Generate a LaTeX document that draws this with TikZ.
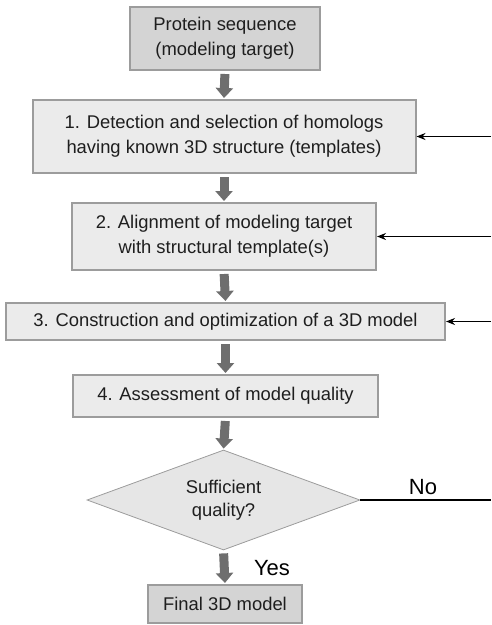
\documentclass[tikz,border=0pt]{standalone}
\usepackage{fontspec}
\setmainfont{Liberation Sans}
\usetikzlibrary{shapes.geometric,arrows.meta}
\definecolor{boxfill}{HTML}{EBEBEB}
\definecolor{darkfill}{HTML}{D4D4D4}
\definecolor{boxline}{HTML}{9C9C9C}
\definecolor{arrowgray}{HTML}{6E6E6E}
\definecolor{dfill}{HTML}{E6E6E6}
\definecolor{txt}{HTML}{1E1E1E}
\tikzset{
  stepbox/.style={draw=boxline, line width=2pt, fill=boxfill, inner sep=0pt,
    align=center, text=txt, font=\fontsize{18.4}{25}\selectfont},
  darkbox/.style={stepbox, fill=darkfill},
  decision/.style={diamond, draw=boxline, line width=0.8pt, fill=dfill, inner sep=0pt,
    aspect=2.73, align=center, text=txt, font=\fontsize{18.4}{23}\selectfont},
  bigarrow/.style={draw=arrowgray, line width=9pt, -{Triangle[width=17pt,length=10pt]},
    shorten <=3pt, shorten >=1pt},
  inarrow/.style={draw=black, line width=1.8pt, -{Stealth[length=9pt,width=7pt]}},
  lbl/.style={font=\fontsize{22}{26}\selectfont, text=black, inner sep=0pt}
}
\begin{document}
\begin{tikzpicture}[x=1pt,y=-1pt]
\useasboundingbox (0,0) rectangle (491,625);
\node[darkbox, minimum width=190pt, minimum height=63pt] (b0) at (225,38.5) {Protein sequence\\(modeling target)};
\node[stepbox, minimum width=383pt, minimum height=73pt] (b1) at (224,136.5) {1. Detection and selection of homologs\\having known 3D structure (templates)};
\node[stepbox, minimum width=304pt, minimum height=67pt] (b2) at (224,236.5) {2. Alignment of modeling target\\with structural template(s)};
\node[stepbox, minimum width=439pt, minimum height=37pt] (b3) at (225.5,321.5) {3. Construction and optimization of a 3D model};
\node[stepbox, minimum width=305pt, minimum height=42pt] (b4) at (225.5,396) {4. Assessment of model quality};
\node[decision, minimum width=273pt, minimum height=100pt] (d) at (223.5,500) {Sufficient\\quality?};
\node[darkbox, minimum width=154pt, minimum height=38pt] (f) at (225,604) {Final 3D model};

\draw[bigarrow] (b0.south) -- (b1.north);
\draw[bigarrow] (b1.south) -- (b2.north);
\draw[bigarrow] (b2.south) -- (b3.north);
\draw[bigarrow] (b3.south) -- (b4.north);
\draw[bigarrow] (b4.south) -- (d.north);
\draw[bigarrow] (d.south) -- (f.north);

\coordinate (r1) at (491,136.5);
\coordinate (r2) at (491,236.5);
\coordinate (r3) at (491,321.5);
\coordinate (r4) at (491,500);
\draw[inarrow] (r1) -- (b1.east);
\draw[inarrow] (r2) -- (b2.east);
\draw[inarrow] (r3) -- (b3.east);
\draw[black, line width=1.6pt] (d.east) -- (r4);
\node[lbl] (no) at (423,487) {No};
\node[lbl] (yes) at (272,568) {Yes};
\end{tikzpicture}
\end{document}
